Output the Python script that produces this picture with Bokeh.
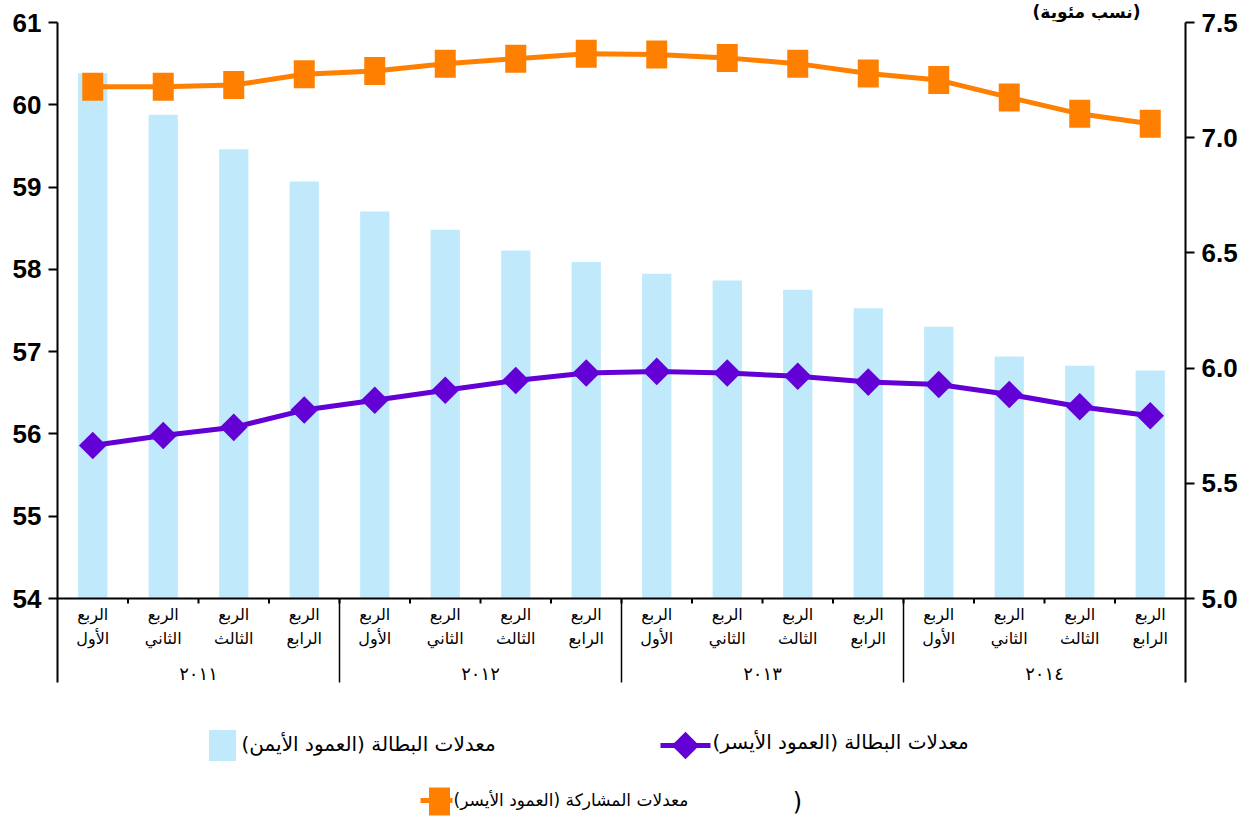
import numpy as np
from bokeh.plotting import figure
from bokeh.models import Range1d, LinearAxis, FixedTicker, Span, PrintfTickFormatter
from bokeh.core.properties import value
from bokeh.embed import file_html
from bokeh.resources import INLINE

# ---- data -------------------------------------------------------------
quarter_word = "الربع"
quarter_names = ["الأول", "الثاني", "الثالث", "الرابع"]
years = ["٢٠١١", "٢٠١٢", "٢٠١٣", "٢٠١٤"]

# participation rate (left axis)
participation = [60.22, 60.22, 60.24, 60.37, 60.41, 60.50, 60.56, 60.62,
                 60.61, 60.57, 60.50, 60.38, 60.30, 60.09, 59.89, 59.77]
# unemployment line (left axis)
unemployment_line = [55.86, 55.98, 56.08, 56.29, 56.41, 56.53, 56.65, 56.74,
                     56.76, 56.74, 56.70, 56.63, 56.60, 56.48, 56.33, 56.22]
# unemployment bars (right axis)
unemployment_bars = [7.28, 7.10, 6.95, 6.81, 6.68, 6.60, 6.51, 6.46,
                     6.41, 6.38, 6.34, 6.26, 6.18, 6.05, 6.01, 5.99]

left_ticks = [54, 55, 56, 57, 58, 59, 60, 61]
right_ticks = [5.0, 5.5, 6.0, 6.5, 7.0, 7.5]

# ---- layout geometry (pixels) ----------------------------------------
W, H = 1241, 817
FRAME_LEFT, FRAME_RIGHT = 57, 1185
AXIS_TOP, AXIS_Y, STRIP_BOTTOM = 22, 598, 682

BAR_COLOR = "#C0EAFB"
ORANGE = "#FF8000"
PURPLE = "#6300D6"
AR_FONT = "DejaVu Sans"
NUM_FONT = "Liberation Sans"

n = len(participation)
xc = np.arange(n) + 0.5

# the frame fills the whole canvas height; each value scale is stretched so
# that its tick span sits between AXIS_TOP and AXIS_Y
lpp = (AXIS_Y - AXIS_TOP) / (left_ticks[-1] - left_ticks[0])
rpp = (AXIS_Y - AXIS_TOP) / (right_ticks[-1] - right_ticks[0])
left_start = left_ticks[0] - (H - AXIS_Y) / lpp
left_end = left_ticks[-1] + AXIS_TOP / lpp
left_strip = left_ticks[0] - (STRIP_BOTTOM - AXIS_Y) / lpp
right_start = right_ticks[0] - (H - AXIS_Y) / rpp
right_end = right_ticks[-1] + AXIS_TOP / rpp
right_strip = right_ticks[0] - (STRIP_BOTTOM - AXIS_Y) / rpp

p = figure(width=W, height=H, x_range=Range1d(0, n),
           y_range=Range1d(left_start, left_end),
           x_axis_location=None, output_backend="svg", toolbar_location=None,
           min_border_left=FRAME_LEFT, min_border_right=W - FRAME_RIGHT,
           min_border_top=0, min_border_bottom=0)
p.outline_line_color = None
p.grid.grid_line_color = None
p.background_fill_color = "white"

# value scales plus a pixel-space layer for notes and the legend
p.extra_y_ranges = {"right": Range1d(right_start, right_end),
                    "py": Range1d(H, 0)}
p.extra_x_ranges = {"px": Range1d(FRAME_LEFT, FRAME_RIGHT)}

p.yaxis.ticker = FixedTicker(ticks=left_ticks)
p.yaxis.bounds = (left_strip, left_ticks[-1])
raxis = LinearAxis(y_range_name="right", ticker=FixedTicker(ticks=right_ticks),
                   formatter=PrintfTickFormatter(format="%.1f"),
                   bounds=(right_strip, right_ticks[-1]))
p.add_layout(raxis, "right")

for ax in [p.yaxis[0], raxis]:
    ax.axis_line_width = 2
    ax.axis_line_color = "black"
    ax.major_tick_line_width = 2
    ax.major_tick_out = 9
    ax.major_tick_in = 0
    ax.minor_tick_line_color = None
    ax.major_label_standoff = 7
    ax.major_label_text_font = NUM_FONT
    ax.major_label_text_font_style = "bold"
    ax.major_label_text_font_size = "26px"
    ax.major_label_text_color = "black"

# bars on the right scale
p.vbar(x=xc, top=unemployment_bars, bottom=right_ticks[0], width=0.415,
       y_range_name="right", fill_color=BAR_COLOR, line_color=None)

# category axis line, ticks and year separators
p.add_layout(Span(location=left_ticks[0], dimension="width",
                  line_color="black", line_width=2))
bounds = np.arange(1, n)
p.segment(x0=bounds, y0=left_ticks[0], x1=bounds, y1=left_ticks[0] - 5 / lpp,
          line_color="black", line_width=2)
seps = np.arange(4, n, 4)
p.segment(x0=seps, y0=left_ticks[0], x1=seps, y1=left_strip,
          line_color="black", line_width=1.5)

# lines
p.line(xc, participation, line_color=ORANGE, line_width=5)
p.rect(xc, participation, width=21, height=28, width_units="screen",
       height_units="screen", fill_color=ORANGE, line_color=None)
p.line(xc, unemployment_line, line_color=PURPLE, line_width=5)
p.scatter(xc, unemployment_line, marker="square", size=19.5, angle=np.pi / 4,
          fill_color=PURPLE, line_color=None)

# category labels
base = [left_ticks[0]] * n
p.text(x=xc, y=base, text=[quarter_word] * n, y_offset=16,
       text_align="center", text_baseline="middle",
       text_font=value(AR_FONT), text_font_size="16px", text_color="black")
p.text(x=xc, y=base, text=[quarter_names[i % 4] for i in range(n)], y_offset=40,
       text_align="center", text_baseline="middle",
       text_font=value(AR_FONT), text_font_size="16px", text_color="black")
p.text(x=np.arange(len(years)) * 4 + 2, y=[left_ticks[0]] * len(years), text=years,
       y_offset=75, text_align="center", text_baseline="middle",
       text_font=value(AR_FONT), text_font_size="18px", text_color="black")

# ---- notes and legend, placed in pixel space ---------------------------
PX = dict(x_range_name="px", y_range_name="py")

p.text([1140], [21], text=["(نسب مئوية)"], text_align="right",
       text_baseline="bottom", text_font=value(AR_FONT), text_font_size="17px",
       text_font_style="bold", text_color="black", **PX)

p.rect([222], [745], width=27, height=31, width_units="screen",
       height_units="screen", fill_color=BAR_COLOR, line_color=None, **PX)
p.text([241], [743], text=["معدلات البطالة (العمود الأيمن)"], text_align="left",
       text_baseline="middle", text_font=value(AR_FONT), text_font_size="20px", **PX)

p.line([660, 710], [745, 745], line_color=PURPLE, line_width=5, **PX)
p.scatter([685], [745], marker="square", size=19.5, angle=np.pi / 4,
          fill_color=PURPLE, line_color=None, **PX)
p.text([712], [741], text=["معدلات البطالة (العمود الأيسر)"], text_align="left",
       text_baseline="middle", text_font=value(AR_FONT), text_font_size="20px", **PX)

p.line([420, 452], [800, 800], line_color=ORANGE, line_width=5, **PX)
p.rect([439], [801], width=21, height=28, width_units="screen",
       height_units="screen", fill_color=ORANGE, line_color=None, **PX)
p.text([453], [799], text=["معدلات المشاركة (العمود الأيسر)"], text_align="left",
       text_baseline="middle", text_font=value(AR_FONT), text_font_size="17px", **PX)
p.text([797], [801], text=[")"], text_align="center", text_baseline="middle",
       text_font=value(AR_FONT), text_font_size="24px", **PX)

open("out.html", "w").write(file_html(p, INLINE))
